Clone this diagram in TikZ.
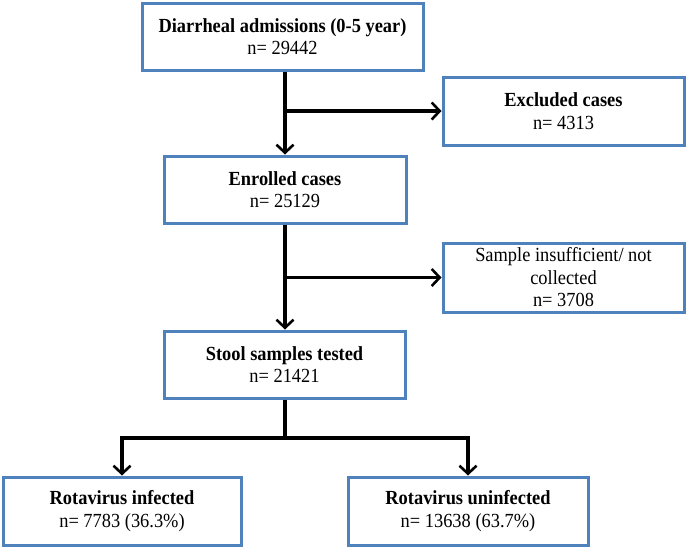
\documentclass[tikz,border=0pt]{standalone}
\usepackage{fontspec}
\setmainfont{Liberation Serif}[FakeStretch=0.92]
\usetikzlibrary{arrows.meta}
\definecolor{boxblue}{HTML}{4F81BD}
\tikzset{
  flowbox/.style={draw=boxblue, line width=3pt, rectangle, align=center,
    inner sep=0pt, font=\fontsize{20}{22.5}\selectfont, fill=white},
  arr/.style={draw=black, line width=3.2pt, -{Straight Barb[length=8pt,width=17pt,line width=2.6pt]}},
  conn/.style={draw=black, line width=3.2pt}
}
\begin{document}
\begin{tikzpicture}[x=1pt,y=-1pt]
\useasboundingbox (0,0) rectangle (686,547);
\node[flowbox, minimum width=281pt, minimum height=67pt] (adm) at (282.5,36.5)
  {\textbf{Diarrheal admissions (0-5 year)}\\n= 29442};
\node[flowbox, minimum width=241pt, minimum height=68pt] (exc) at (563.5,111)
  {\textbf{Excluded cases}\\n= 4313};
\node[flowbox, minimum width=242pt, minimum height=67pt] (enr) at (285,189.5)
  {\textbf{Enrolled cases}\\n= 25129};
\node[flowbox, minimum width=241pt, minimum height=69pt] (ins) at (563.5,277.5)
  {Sample insufficient/ not\\collected\\n= 3708};
\node[flowbox, minimum width=241pt, minimum height=67pt] (sto) at (284.5,364.5)
  {\textbf{Stool samples tested}\\n= 21421};
\node[flowbox, minimum width=238pt, minimum height=68pt] (inf) at (122,511)
  {\textbf{Rotavirus infected}\\n= 7783 (36.3\%)};
\node[flowbox, minimum width=240pt, minimum height=68pt] (uni) at (468,511)
  {\textbf{Rotavirus uninfected}\\n= 13638 (63.7\%)};
\coordinate (j1) at (285,111);
\coordinate (j2) at (285,277.5);
\coordinate (j3) at (285,438);
\draw[arr] (adm.south -| j1) -- (enr.north -| j1);
\draw[arr] (j1) -- (exc.west);
\draw[arr] (enr.south -| j2) -- (sto.north -| j2);
\draw[arr] (j2) -- (ins.west);
\draw[conn] (sto.south -| j3) -- (j3);
\draw[arr] (j3) -| (inf.north);
\draw[arr] (j3) -| (uni.north);
\end{tikzpicture}
\end{document}
